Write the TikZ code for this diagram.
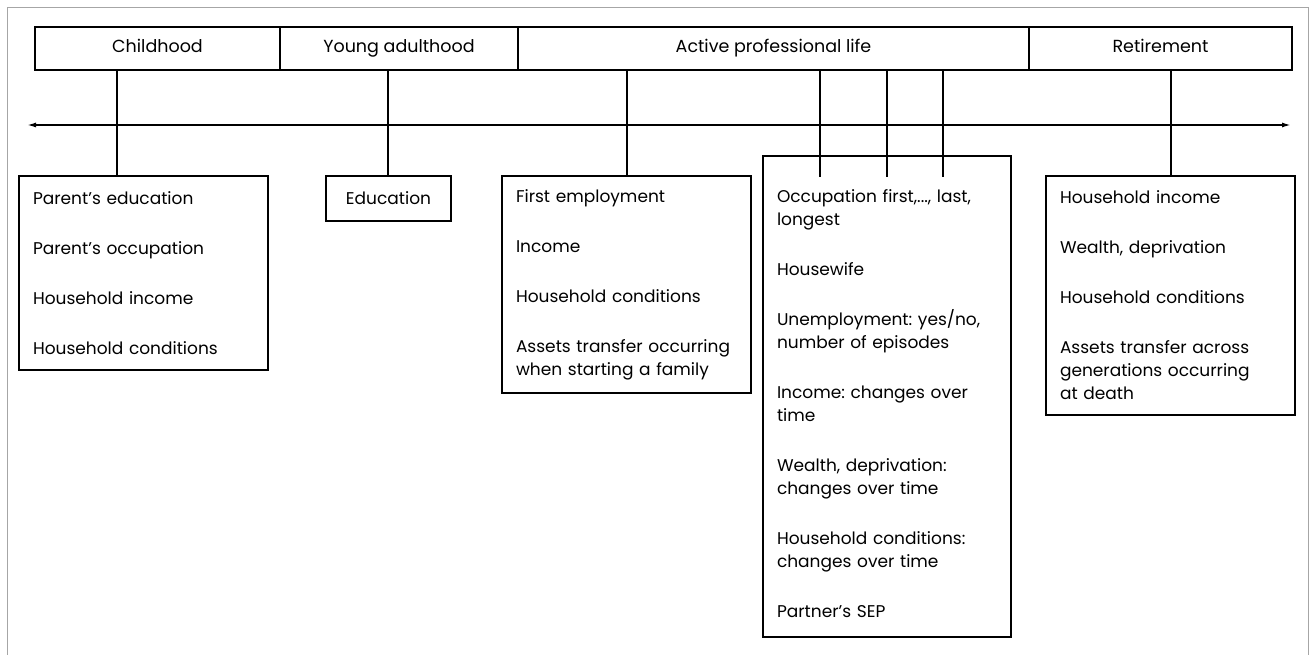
\documentclass[tikz,border=0pt]{standalone}
\usepackage{fontspec}
\setmainfont{Poppins}
\frenchspacing
\usetikzlibrary{positioning,arrows.meta}
\tikzset{
  phase/.style={draw,line width=1.6pt,minimum height=43pt,inner sep=0pt,outer sep=0pt,
    text height=12.5pt,text depth=3.5pt,font=\fontsize{17.5pt}{20pt}\selectfont},
  itembox/.style={draw,line width=1.6pt,anchor=north west,align=left,inner xsep=14pt,
    inner ysep=0pt,outer sep=0pt,font=\fontsize{17pt}{23pt}\selectfont},
  link/.style={line width=1.6pt},
}
\newcommand{\gap}{\\[27pt]}
\begin{document}
\begin{tikzpicture}[x=1pt,y=-1pt]
  \useasboundingbox (0,0) rectangle (1310,655);
  % Frame
  \draw [gray!70,line width=1.5pt] (7.5,660) -- (7.5,7.5) -- (1308.5,7.5) -- (1308.5,660);

  % Phases
  \node [phase,minimum width=245pt,anchor=north west] (childhood) at (35,27) {Childhood};
  \node [phase,minimum width=238pt,right=0pt of childhood] (young) {Young adulthood};
  \node [phase,minimum width=511pt,right=0pt of young] (active) {Active professional life};
  \node [phase,minimum width=263pt,right=0pt of active] (retire) {Retirement};

  % Time axis
  \coordinate (tl) at (27,125);
  \coordinate (tr) at (1291,125);
  \draw [link,{Latex[length=9pt,width=5pt]}-{Latex[length=9pt,width=5pt]}] (tl) -- (tr);
  \coordinate (d1) at (117,125);
  \coordinate (d2) at (388,125);
  \coordinate (d3) at (627,125);
  \coordinate (d4) at (820,125);
  \coordinate (d5) at (887,125);
  \coordinate (d6) at (943,125);
  \coordinate (d7) at (1171,125);
  \coordinate (tickend) at (0,177);

  % Measures
  \node [itembox,text width=221pt,minimum height=194pt] (cbox) at (19,176)
    {Parent's education\gap Parent's occupation\gap Household income\gap Household conditions};
  \node [itembox,align=center,text width=97pt,minimum height=45pt] (ebox) at (326,176) {Education};
  \node [itembox,text width=221pt,minimum height=217pt] (pbox) at (502,176)
    {First employment\gap Income\gap Household conditions\gap
     Assets transfer occurring\\ when starting a family};
  \node [itembox,text width=220pt,minimum height=481pt] (obox) at (763,156)
    {\rule{0pt}{28pt}Occupation first,..., last,\\ longest\gap Housewife\gap
     Unemployment: yes/no,\\ number of episodes\gap Income: changes over\\ time\gap
     Wealth, deprivation:\\ changes over time\gap Household conditions:\\ changes over time\gap
     Partner's SEP};
  \node [itembox,text width=221pt,minimum height=239pt] (rbox) at (1046,176)
    {Household income\gap Wealth, deprivation\gap Household conditions\gap
     Assets transfer across\\ generations occurring\\ at death};

  % Links
  \draw [link] (childhood.south -| d1) -- (cbox.north -| d1);
  \draw [link] (young.south -| d2) -- (ebox.north -| d2);
  \draw [link] (active.south -| d3) -- (pbox.north -| d3);
  \draw [link] (active.south -| d4) -- (tickend -| d4);
  \draw [link] (active.south -| d5) -- (tickend -| d5);
  \draw [link] (active.south -| d6) -- (tickend -| d6);
  \draw [link] (retire.south -| d7) -- (rbox.north -| d7);
\end{tikzpicture}
\end{document}
